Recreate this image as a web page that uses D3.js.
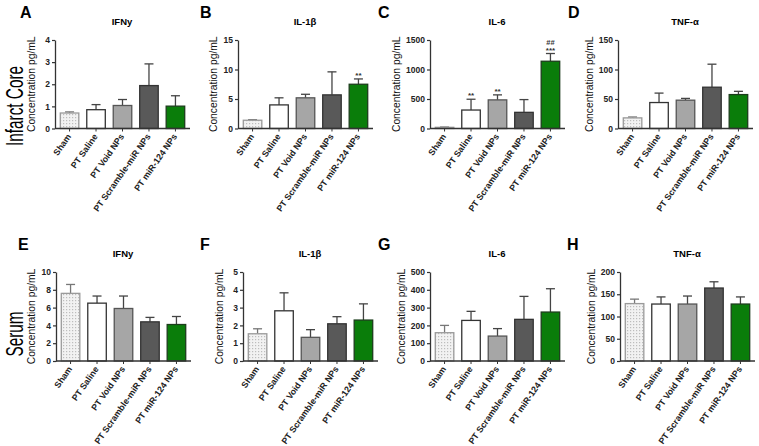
<!DOCTYPE html>
<html>
<head>
<meta charset="utf-8">
<script src="https://d3js.org/d3.v7.min.js"></script>
<style>
  body { margin: 0; background: #fff; }
  text { font-family: Arial, "Liberation Sans", sans-serif; }
</style>
</head>
<body>
<svg id="chart" width="759" height="446"></svg>
<script>
// groups on the x axis
var groups = ["Sham", "PT Saline", "PT Void NPs", "PT Scramble-miR NPs", "PT miR-124 NPs"];

// infarct core, mean and SEM
var ifnCore = [0.70, 0.85, 1.04, 1.94, 1.01];
var ifnCoreErr = [0.05, 0.23, 0.27, 0.98, 0.47];
var il1bCore = [1.4, 4.0, 5.2, 5.7, 7.5];
var il1bCoreErr = [0.1, 1.2, 0.6, 3.9, 0.9];
var il6Core = [20, 313, 485, 274, 1140];
var il6CoreErr = [5, 183, 85, 216, 131];
var tnfCore = [18, 44, 48, 70, 57.5];
var tnfCoreErr = [1.5, 16, 3, 39, 5.5];

// serum, mean and SEM
var ifnSerum = [7.6, 6.5, 5.9, 4.4, 4.1];
var ifnSerumErr = [1.0, 0.8, 1.4, 0.5, 0.9];
var il1bSerum = [1.53, 2.82, 1.33, 2.09, 2.3];
var il1bSerumErr = [0.28, 1.01, 0.43, 0.4, 0.91];
var il6Serum = [159, 228, 140, 234, 275];
var il6SerumErr = [41, 51, 42, 129, 131];
var tnfSerum = [129, 128, 128, 164, 128];
var tnfSerumErr = [10, 16, 18, 14, 16];

// significance marks
var none = ["", "", "", "", ""];
var il1bCoreSig = ["", "", "", "", "**"];
var il6CoreSig = ["", "**", "**", "", "***"];
var il6CoreSig2 = ["", "", "", "", "##"];

// y axis ticks
var ticksA = [0, 1, 2, 3, 4];
var ticksB = [0, 5, 10, 15];
var ticksC = [0, 500, 1000, 1500];
var ticksD = [0, 50, 100, 150];
var ticksE = [0, 2, 4, 6, 8, 10];
var ticksF = [0, 1, 2, 3, 4, 5];
var ticksG = [0, 100, 200, 300, 400, 500];
var ticksH = [0, 50, 100, 150, 200];

var fills = ["url(#dots)", "#ffffff", "#a6a6a6", "#595959", "#0a7d0a"];
var strokes = ["#9a9a9a", "#333333", "#555555", "#333333", "#1c3d1c"];

var svg = d3.select("#chart");

// Sham bars have a dotted texture
var pat = svg.append("defs").append("pattern")
  .attr("id", "dots").attr("width", 3).attr("height", 3)
  .attr("patternUnits", "userSpaceOnUse");
pat.append("rect").attr("width", 3).attr("height", 3).attr("fill", "#f2f2f2");
pat.append("rect").attr("width", 1.2).attr("height", 1.2).attr("fill", "#bdbdbd");

var panels = [
  {letter: "A", title: "IFNy", v: ifnCore, e: ifnCoreErr, t: ticksA, s: none, s2: none, x0: 55, top: 40, zero: 128.5, lx: 20},
  {letter: "B", title: "IL-1β", v: il1bCore, e: il1bCoreErr, t: ticksB, s: il1bCoreSig, s2: none, x0: 238, top: 40, zero: 128.5, lx: 200},
  {letter: "C", title: "IL-6", v: il6Core, e: il6CoreErr, t: ticksC, s: il6CoreSig, s2: il6CoreSig2, x0: 430, top: 40, zero: 128.5, lx: 378},
  {letter: "D", title: "TNF-α", v: tnfCore, e: tnfCoreErr, t: ticksD, s: none, s2: none, x0: 618, top: 40, zero: 128.5, lx: 568},
  {letter: "E", title: "IFNy", v: ifnSerum, e: ifnSerumErr, t: ticksE, s: none, s2: none, x0: 56, top: 272, zero: 361, lx: 18},
  {letter: "F", title: "IL-1β", v: il1bSerum, e: il1bSerumErr, t: ticksF, s: none, s2: none, x0: 243, top: 272, zero: 361, lx: 200},
  {letter: "G", title: "IL-6", v: il6Serum, e: il6SerumErr, t: ticksG, s: none, s2: none, x0: 430, top: 272, zero: 361, lx: 378},
  {letter: "H", title: "TNF-α", v: tnfSerum, e: tnfSerumErr, t: ticksH, s: none, s2: none, x0: 620, top: 272, zero: 361, lx: 567}
];

panels.forEach(function(p) {
  var g = svg.append("g");
  var x = d3.scaleBand().domain(groups)
    .range([p.x0, p.x0 + 135]).paddingInner(0.3).paddingOuter(0.2);
  var y = d3.scaleLinear().domain([0, d3.max(p.t)]).range([p.zero, p.top]);

  // panel letter and title
  g.append("text").attr("x", p.lx).attr("y", p.top - 22)
    .attr("font-size", 16).attr("font-weight", "bold").text(p.letter);
  g.append("text").attr("x", p.x0 + 67).attr("y", p.top - 15)
    .attr("text-anchor", "middle").attr("font-size", 9.5).attr("font-weight", "bold")
    .text(p.title);

  // error bars (upper only)
  var eb = g.selectAll(".err").data(groups).enter().append("g");
  eb.append("line")
    .attr("x1", function(d) { return x(d) + x.bandwidth() / 2; })
    .attr("x2", function(d) { return x(d) + x.bandwidth() / 2; })
    .attr("y1", function(d, i) { return y(p.v[i]); })
    .attr("y2", function(d, i) { return y(p.v[i] + p.e[i]); })
    .attr("stroke", function(d, i) { return i == 0 ? "#777" : "#444"; })
    .attr("stroke-width", 1.3);
  eb.append("line")
    .attr("x1", function(d) { return x(d) + x.bandwidth() / 2 - 4.5; })
    .attr("x2", function(d) { return x(d) + x.bandwidth() / 2 + 4.5; })
    .attr("y1", function(d, i) { return y(p.v[i] + p.e[i]); })
    .attr("y2", function(d, i) { return y(p.v[i] + p.e[i]); })
    .attr("stroke", function(d, i) { return i == 0 ? "#777" : "#444"; })
    .attr("stroke-width", 1.3);

  // bars
  g.selectAll(".bar").data(groups).enter().append("rect")
    .attr("x", function(d) { return x(d); })
    .attr("y", function(d, i) { return y(p.v[i]); })
    .attr("width", x.bandwidth())
    .attr("height", function(d, i) { return p.zero - y(p.v[i]); })
    .attr("fill", function(d, i) { return fills[i]; })
    .attr("stroke", function(d, i) { return strokes[i]; })
    .attr("stroke-width", 1.3);

  // significance marks
  g.selectAll(".sig").data(groups).enter().append("text")
    .attr("x", function(d) { return x(d) + x.bandwidth() / 2; })
    .attr("y", function(d, i) { return y(p.v[i] + p.e[i]) - 1; })
    .attr("text-anchor", "middle").attr("font-size", 8).attr("font-weight", "bold")
    .attr("fill", "#333")
    .text(function(d, i) { return p.s[i]; });
  g.selectAll(".sig2").data(groups).enter().append("text")
    .attr("x", function(d) { return x(d) + x.bandwidth() / 2; })
    .attr("y", function(d, i) { return y(p.v[i] + p.e[i]) - 8.5; })
    .attr("text-anchor", "middle").attr("font-size", 7.5).attr("font-weight", "bold")
    .attr("fill", "#333")
    .text(function(d, i) { return p.s2[i]; });

  // y axis
  var ya = g.append("g").attr("transform", "translate(" + p.x0 + ",0)")
    .call(d3.axisLeft(y).tickValues(p.t).tickFormat(d3.format("d"))
      .tickSize(3).tickPadding(2).tickSizeOuter(0));
  ya.select(".domain").attr("stroke", "#333").attr("stroke-width", 1.3);
  ya.selectAll(".tick line").attr("stroke", "#333").attr("stroke-width", 1.2);
  ya.selectAll(".tick text").attr("font-size", 8.5).attr("font-weight", "bold")
    .attr("font-family", "Arial, 'Liberation Sans', sans-serif").attr("fill", "#222");
  var tw = 0;
  ya.selectAll(".tick text").each(function() { tw = Math.max(tw, this.getBBox().width); });
  g.append("text")
    .attr("transform", "translate(" + (p.x0 - Math.max(tw, 9) - 11) + "," + ((p.top + p.zero) / 2) + ") rotate(-90)")
    .attr("text-anchor", "middle").attr("font-size", 10.3).attr("fill", "#111")
    .text("Concentration pg/mL");

  // x axis
  var xa = g.append("g").attr("transform", "translate(0," + p.zero + ")")
    .call(d3.axisBottom(x).tickSize(3).tickSizeOuter(0).tickFormat(""));
  xa.select(".domain").attr("stroke", "#333").attr("stroke-width", 1.3)
    .attr("d", "M" + p.x0 + ",0H" + (p.x0 + 135));
  xa.selectAll(".tick line").attr("stroke", "#333");
  g.selectAll(".xl").data(groups).enter().append("text")
    .attr("transform", function(d) {
      return "translate(" + (x(d) + x.bandwidth() / 2 + 2) + "," + (p.zero + 8) + ") rotate(-55)";
    })
    .attr("text-anchor", "end").attr("font-size", 8.8).attr("font-weight", "bold")
    .attr("fill", "#222")
    .text(function(d) { return d; });
});

// row labels
svg.append("text").attr("transform", "translate(23,106) rotate(-90) scale(0.64,1)")
  .attr("text-anchor", "middle").attr("font-size", 24).text("Infarct Core");
svg.append("text").attr("transform", "translate(23,334) rotate(-90) scale(0.64,1)")
  .attr("text-anchor", "middle").attr("font-size", 24).text("Serum");
</script>
</body>
</html>
